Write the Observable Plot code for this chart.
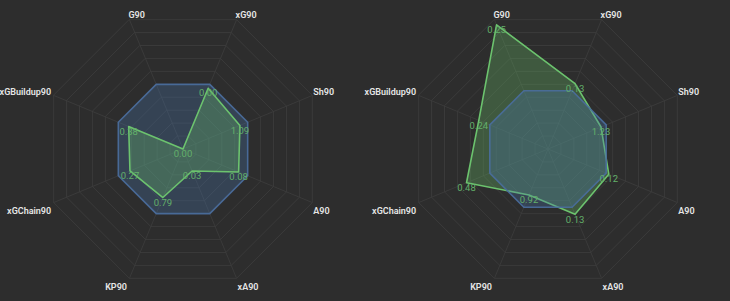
<!DOCTYPE html>
<html>
<head>
<meta charset="utf-8">
<script src="https://cdn.jsdelivr.net/npm/d3@7"></script>
<script src="https://cdn.jsdelivr.net/npm/@observablehq/plot@0.6"></script>
<style>
  html, body { margin: 0; padding: 0; background: #2d2d2d; }
  #wrap { display: flex; width: 730px; height: 301px; background: #2d2d2d; }
  #wrap svg { display: block; }
</style>
</head>
<body>
<div id="wrap"></div>
<script>
// ---- data ----
const axes = ["G90", "xG90", "Sh90", "A90", "xA90", "KP90", "xGChain90", "xGBuildup90"];
const gridLevels = [0.1, 0.2, 0.3, 0.4, 0.5, 0.6, 0.7, 0.8, 0.9, 1.0];

const leftValueLabels = ["0.00", "0.00", "1.09", "0.08", "0.03", "0.79", "0.27", "0.38"];
const leftPlayer = [0.00, 0.47, 0.44, 0.43, 0.17, 0.375, 0.41, 0.42];
const leftAverage = [0.5, 0.5, 0.5, 0.5, 0.5, 0.5, 0.5, 0.5];

const rightValueLabels = ["0.25", "0.13", "1.23", "0.12", "0.13", "0.92", "0.48", "0.24"];
const rightPlayer = [0.96, 0.505, 0.41, 0.47, 0.505, 0.355, 0.63, 0.535];
const rightAverage = [0.45, 0.45, 0.45, 0.45, 0.45, 0.45, 0.45, 0.45];

// ---- helpers ----
const angleOf = i => (-22.5 + 45 * i) * Math.PI / 180;
const pt = (i, r) => ({x: r * Math.sin(angleOf(i)), y: r * Math.cos(angleOf(i))});

const W = 365, H = 301, R = 140, CX = 182.5, CY = 148.5;
const BG = "#2d2d2d";
const GREEN = "#6cc36e";
const BLUE = "#4a6e9e";

function radar(player, labels, average, greenOnTop) {
  const rings = gridLevels.flatMap(l => axes.map((a, i) => ({...pt(i, l), ring: l})));
  const spokes = axes.map((a, i) => ({...pt(i, 1), axis: a, i,
    s: Math.sin(angleOf(i)), c: Math.cos(angleOf(i))}));
  const playerPts = player.map((r, i) => ({...pt(i, r), label: labels[i]}));
  const avgPts = average.map((r, i) => pt(i, r));

  const blueMark = Plot.line(avgPts, {x: "x", y: "y", curve: "linear-closed",
    stroke: BLUE, strokeWidth: 1.6, strokeOpacity: 0.9, fill: "#4a78b0", fillOpacity: 0.3});
  const greenMark = Plot.line(playerPts, {x: "x", y: "y", curve: "linear-closed",
    stroke: GREEN, strokeWidth: 1.6, fill: "#6abf69", fillOpacity: 0.3});

  const axisText = (filter, opts) => Plot.text(spokes, {x: "x", y: "y", text: "axis", filter,
    fill: "#e6e6e6", fontSize: 9, fontFamily: "Roboto", fontWeight: 600, ...opts});

  return Plot.plot({
    width: W, height: H,
    margin: 0,
    style: {background: BG, overflow: "visible"},
    x: {domain: [-CX / R, (W - CX) / R], range: [0, W], axis: null},
    y: {domain: [-(H - CY) / R, CY / R], range: [H, 0], axis: null},
    marks: [
      Plot.link(spokes, {x1: 0, y1: 0, x2: "x", y2: "y", stroke: "#3e3e3e", strokeWidth: 0.8}),
      Plot.line(rings, {x: "x", y: "y", z: "ring", curve: "linear-closed", stroke: "#3e3e3e", strokeWidth: 0.8}),
      ...(greenOnTop ? [blueMark, greenMark] : [greenMark, blueMark]),
      Plot.text(playerPts, {x: "x", y: "y", text: "label", fill: "#63b06a", fontSize: 9.5,
        fontFamily: "Roboto", lineAnchor: "top", dy: 1.5}),
      // top pair: start-anchored above vertex
      axisText(d => d.c > 0.6, {textAnchor: "start", dy: -4.5, dx: -1}),
      // upper right side
      axisText(d => d.c > 0 && d.c <= 0.6 && d.s > 0, {textAnchor: "start", dy: -3, dx: 1}),
      // lower right side and bottom right
      axisText(d => d.c < 0 && d.s > 0, {textAnchor: "start", dy: 8.5, dx: 1}),
      // lower left side and bottom left
      axisText(d => d.c < 0 && d.s < 0, {textAnchor: "end", dy: 8.5, dx: -2.5}),
      // upper left side
      axisText(d => d.c > 0 && d.c <= 0.6 && d.s < 0, {textAnchor: "end", dy: -3, dx: -2.5})
    ]
  });
}

const wrap = document.getElementById("wrap");
wrap.appendChild(radar(leftPlayer, leftValueLabels, leftAverage, true));
wrap.appendChild(radar(rightPlayer, rightValueLabels, rightAverage, false));
</script>
</body>
</html>
